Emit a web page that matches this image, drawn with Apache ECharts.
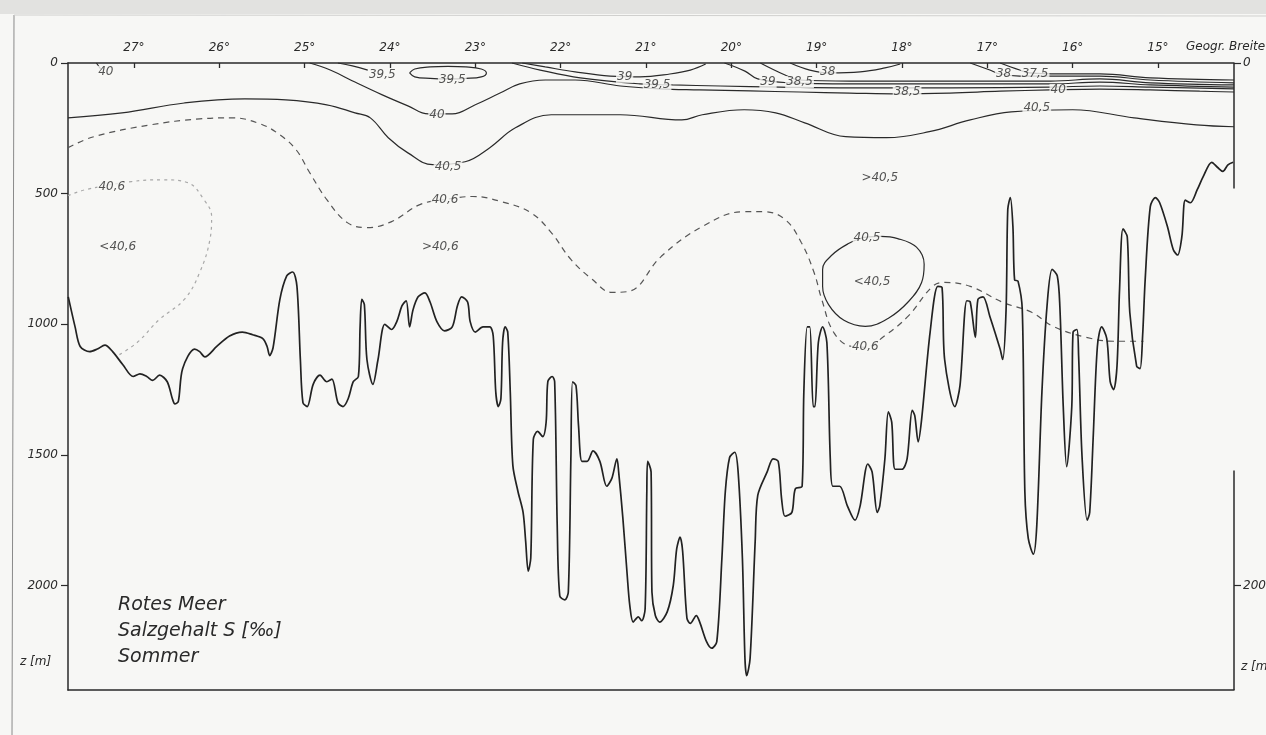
<!DOCTYPE html>
<html><head><meta charset="utf-8">
<script src="https://cdn.jsdelivr.net/npm/echarts@6/dist/echarts.min.js"></script>
<style>html,body{margin:0;padding:0;background:#f7f7f5}#c{width:1266px;height:735px}</style>
</head><body><div id="c"></div>
<script>
// ---------- data ----------
const latTicks = [27,26,25,24,23,22,21,20,19,18,17,16,15];
const depthTicks = [0,500,1000,1500,2000];
const rightDepthTicks = [0,2000];
const latRange = [14.109, 27.773];
const depthRange = [0, 2400];
const rightFrameSpans = [[0,480],[1560,2400]];

// sea floor (bottom profile) [lat, depth m]
const bathymetry = [[27.77,895],[27.69,1010],[27.63,1085],[27.52,1105],[27.43,1095],[27.34,1080],[27.25,1105],[27.13,1155],[27.01,1200],[26.93,1190],[26.85,1200],[26.78,1215],[26.70,1195],[26.61,1220],[26.55,1285],[26.52,1305],[26.48,1295],[26.43,1170],[26.29,1095],[26.23,1105],[26.17,1125],[26.03,1085],[25.88,1045],[25.73,1030],[25.61,1040],[25.49,1055],[25.44,1085],[25.41,1120],[25.37,1090],[25.29,905],[25.21,815],[25.14,800],[25.09,855],[25.05,1135],[25.02,1300],[24.97,1315],[24.90,1230],[24.82,1195],[24.74,1220],[24.68,1210],[24.61,1300],[24.55,1315],[24.49,1285],[24.43,1220],[24.37,1200],[24.35,1010],[24.33,905],[24.30,925],[24.27,1135],[24.20,1230],[24.14,1135],[24.06,1000],[23.98,1020],[23.92,990],[23.86,930],[23.81,910],[23.77,1010],[23.73,945],[23.67,895],[23.59,880],[23.53,915],[23.45,990],[23.36,1025],[23.27,1010],[23.21,930],[23.16,895],[23.09,915],[23.06,990],[23.00,1030],[22.91,1010],[22.83,1010],[22.79,1045],[22.76,1260],[22.73,1315],[22.70,1285],[22.68,1070],[22.65,1010],[22.62,1030],[22.59,1260],[22.56,1540],[22.50,1640],[22.44,1720],[22.41,1830],[22.38,1945],[22.35,1895],[22.32,1440],[22.27,1410],[22.21,1430],[22.17,1375],[22.15,1220],[22.10,1200],[22.07,1220],[22.04,1770],[22.01,2040],[21.95,2055],[21.91,2025],[21.88,1515],[21.86,1220],[21.82,1235],[21.79,1390],[21.75,1525],[21.69,1525],[21.62,1485],[21.54,1525],[21.46,1620],[21.40,1590],[21.34,1515],[21.32,1565],[21.27,1745],[21.22,1960],[21.19,2075],[21.15,2140],[21.09,2120],[21.05,2135],[21.01,2090],[20.99,1640],[20.98,1525],[20.94,1565],[20.93,2025],[20.89,2115],[20.84,2140],[20.75,2100],[20.68,2000],[20.64,1860],[20.60,1815],[20.57,1870],[20.52,2125],[20.48,2145],[20.41,2115],[20.37,2140],[20.29,2215],[20.23,2240],[20.17,2215],[20.11,1895],[20.07,1640],[20.02,1510],[19.96,1490],[19.92,1565],[19.87,1895],[19.84,2280],[19.82,2345],[19.78,2280],[19.72,1830],[19.69,1655],[19.58,1565],[19.51,1515],[19.45,1525],[19.41,1670],[19.37,1735],[19.29,1720],[19.25,1630],[19.17,1620],[19.15,1260],[19.11,1010],[19.08,1010],[19.04,1315],[19.02,1315],[18.98,1070],[18.93,1010],[18.88,1070],[18.84,1515],[18.81,1620],[18.73,1620],[18.64,1695],[18.55,1750],[18.49,1695],[18.40,1535],[18.35,1565],[18.29,1720],[18.26,1695],[18.20,1515],[18.16,1335],[18.12,1375],[18.08,1555],[18.00,1555],[17.94,1515],[17.88,1330],[17.85,1350],[17.81,1450],[17.77,1365],[17.67,1030],[17.58,855],[17.53,860],[17.50,1135],[17.38,1315],[17.32,1235],[17.24,910],[17.20,915],[17.14,1050],[17.11,905],[17.05,895],[16.97,970],[16.85,1095],[16.82,1135],[16.78,945],[16.76,560],[16.73,515],[16.70,625],[16.68,830],[16.64,835],[16.59,945],[16.56,1640],[16.52,1820],[16.46,1880],[16.42,1770],[16.36,1260],[16.30,930],[16.24,790],[16.18,815],[16.15,930],[16.11,1315],[16.07,1545],[16.01,1315],[15.995,1030],[15.95,1020],[15.93,1120],[15.89,1505],[15.83,1750],[15.80,1720],[15.76,1440],[15.71,1085],[15.66,1010],[15.60,1055],[15.56,1220],[15.52,1250],[15.48,1160],[15.45,865],[15.41,635],[15.36,665],[15.33,955],[15.25,1160],[15.21,1170],[15.18,1045],[15.15,830],[15.09,550],[15.03,515],[14.98,535],[14.89,625],[14.82,715],[14.77,735],[14.72,665],[14.68,525],[14.62,535],[14.54,485],[14.47,435],[14.37,380],[14.30,400],[14.24,415],[14.18,390],[14.12,380]];

// salinity isolines [lat, depth m]
const iso40_5 = [[27.773,210],[27.14,191],[26.41,153],[25.70,137],[25.22,141],[24.74,160],[24.41,191],[24.23,210],[24.02,286],[23.79,344],[23.50,389],[23.12,378],[22.83,324],[22.53,248],[22.11,198],[21.30,198],[20.58,218],[20.34,198],[19.85,179],[19.48,191],[19.14,229],[18.66,282],[18.18,286],[17.68,263],[17.20,218],[16.72,187],[16.00,179],[15.28,210],[14.55,237],[14.109,244]];
const iso40_6 = [[27.773,324],[27.47,282],[26.81,237],[26.23,214],[25.84,210],[25.52,233],[25.29,275],[25.10,332],[24.94,420],[24.74,523],[24.50,611],[24.27,630],[23.98,607],[23.65,542],[23.36,523],[23.03,511],[22.69,531],[22.35,573],[22.11,649],[21.88,752],[21.63,828],[21.40,878],[21.20,874],[20.82,740],[20.34,626],[19.85,569],[19.62,569],[19.37,599],[19.18,687],[19.03,802],[18.94,905],[18.80,1031],[18.60,1084],[18.43,1088],[18.21,1046],[17.93,970],[17.64,855],[17.50,840],[17.20,855],[16.82,916],[16.48,954],[16.23,1008],[15.84,1050],[15.52,1065],[15.17,1065]];
const iso40_6West = [[27.773,508],[27.57,485],[27.03,454],[26.66,447],[26.37,458],[26.18,523],[26.09,588],[26.11,676],[26.23,802],[26.41,905],[26.70,981],[26.96,1069],[27.20,1122]];
const iso40_5Lens = [[18.45,668],[18.62,690],[18.82,735],[18.93,790],[18.93,855],[18.86,925],[18.68,985],[18.43,1008],[18.15,975],[17.92,912],[17.77,840],[17.74,770],[17.83,705],[18.05,672],[18.25,664],[18.45,668]];
const iso40West = [[27.44,0],[27.39,23]];
const iso39_5Stub = [[24.61,0],[24.44,11],[24.26,27]];
const iso39_5Lens = [[23.77,38],[23.71,23],[23.53,15],[23.32,13],[23.11,15],[22.93,23],[22.87,38],[22.93,53],[23.11,59],[23.32,61],[23.53,59],[23.71,53],[23.77,38]];
const iso40 = [[24.94,0],[24.70,27],[24.41,73],[24.09,122],[23.79,164],[23.55,195],[23.27,195],[23.00,160],[22.71,115],[22.48,80],[22.18,65],[21.83,65],[21.30,88],[20.84,99],[20.37,103],[19.78,107],[19.20,111],[18.61,115],[18.02,118],[17.44,115],[16.85,108],[16.26,103],[15.68,100],[15.09,103],[14.51,108],[14.109,111]];
const iso39_5 = [[22.57,0],[22.24,27],[21.77,57],[21.07,80],[20.69,84],[20.13,88],[19.43,92],[18.61,95],[17.44,95],[16.26,92],[15.68,88],[15.09,92],[14.109,99]];
const iso39Arc = [[22.45,0],[22.18,15],[21.83,34],[21.42,50],[21.07,53],[20.72,42],[20.48,27],[20.30,4]];
const iso39 = [[20.08,0],[19.84,31],[19.69,61],[19.31,76],[18.61,80],[17.44,80],[16.26,80],[15.68,73],[15.09,84],[14.109,92]];
const iso38_5 = [[19.66,0],[19.37,46],[19.20,65],[18.61,69],[17.44,69],[16.26,69],[15.68,61],[15.09,76],[14.109,84]];
const iso38Arc = [[19.31,0],[19.08,27],[18.84,38],[18.49,34],[18.20,19],[18.02,4]];
const iso38 = [[17.20,0],[16.97,27],[16.85,42],[16.62,50],[15.68,50],[15.09,65],[14.109,76]];
const iso37_5 = [[16.85,0],[16.62,27],[16.50,38],[16.15,42],[15.68,42],[15.09,57],[14.109,65]];

// isoline labels [text, lat, depth]
const isoLabels = [['40',27.33,34],['39,5',24.09,46],['39,5',23.27,65],['40',23.45,198],['40,5',23.32,397],['40,6',23.355,523],['40,6',27.26,473],['40,5',16.42,172],['40',16.17,103],['39',21.25,53],['39,5',20.87,84],['39',19.57,73],['38,5',19.20,73],['38',18.87,34],['38,5',17.94,111],['38',16.81,42],['37,5',16.44,42],['40,5',18.41,668],['40,6',18.43,1088]];
const regionLabels = [['<40,6',27.19,702],['>40,6',23.41,702],['>40,5',18.26,439],['<40,5',18.35,836]];
const titleLines = ['Rotes Meer','Salzgehalt S [‰]','Sommer'];
const axisTitle = 'Geogr. Breite';
const depthTitle = 'z [m]';

// ---------- chart ----------
const BG = '#f7f7f5', INK = '#2a2a2a', FONT = 'DejaVu Sans';
const chart = echarts.init(document.getElementById('c'));
function iso(data, extra) {
  return Object.assign({type:'line', data, symbol:'none', smooth:0.4, silent:true, z:3,
    lineStyle:{color:INK, width:1.2}}, extra || {});
}
const series = [
  iso(bathymetry, {smooth:0.3, lineStyle:{color:'#222', width:1.7}, z:4}),
  iso(iso40_5), iso(iso40_5Lens),
  iso(iso40_6, {lineStyle:{color:'#555', width:1.2, type:[6,5]}}),
  iso(iso40_6West, {lineStyle:{color:'#a8a8a8', width:1.2, type:[3,4]}}),
  iso(iso40West), iso(iso39_5Stub), iso(iso39_5Lens), iso(iso40), iso(iso39_5),
  iso(iso39Arc), iso(iso39), iso(iso38_5), iso(iso38Arc), iso(iso38), iso(iso37_5),
  {type:'scatter', symbolSize:0, silent:true, z:10,
   data: isoLabels.map(l => ({name:l[0], value:[l[1], l[2]]})),
   label:{show:true, position:'inside', formatter:p=>p.name, fontFamily:FONT, fontStyle:'italic', fontSize:12, color:INK, backgroundColor:BG, padding:[0,1]}},
  {type:'scatter', symbolSize:0, silent:true, z:10,
   data: regionLabels.map(l => ({name:l[0], value:[l[1], l[2]]})),
   label:{show:true, position:'inside', formatter:p=>p.name, fontFamily:FONT, fontStyle:'italic', fontSize:12, color:INK}}
];
rightFrameSpans.forEach(s => series.push({type:'line', symbol:'none', silent:true, z:2,
  data:[[latRange[0], s[0]],[latRange[0], s[1]]], lineStyle:{color:INK, width:1.5}}));

const lblStyle = {fontFamily:FONT, fontStyle:'italic', fontSize:12, color:INK};
chart.setOption({
  backgroundColor: BG,
  animation: false,
  grid: {left:68, right:32, top:63, bottom:45, containLabel:false, outerBoundsMode:'none'},
  xAxis: [
    {type:'value', position:'top', inverse:true, min:latRange[0], max:latRange[1],
     axisLine:{show:true, lineStyle:{color:INK, width:1.5}},
     axisTick:{show:true, inside:true, length:5, customValues:latTicks, lineStyle:{color:INK, width:1.3}},
     axisLabel:Object.assign({customValues:latTicks, formatter:v=>v+'°', margin:9, fontSize:13}, lblStyle),
     splitLine:{show:false}},
    {type:'value', position:'bottom', inverse:true, min:latRange[0], max:latRange[1],
     axisLine:{show:true, onZero:false, lineStyle:{color:INK, width:1.5}}, axisTick:{show:false}, axisLabel:{show:false}, splitLine:{show:false}}
  ],
  yAxis: [
    {type:'value', inverse:true, min:depthRange[0], max:depthRange[1], position:'left',
     axisLine:{show:true, onZero:false, lineStyle:{color:INK, width:1.5}},
     axisTick:{show:true, length:7, customValues:depthTicks, lineStyle:{color:INK, width:1.2}},
     axisLabel:Object.assign({customValues:depthTicks, margin:10, formatter:v=>String(v)}, lblStyle),
     splitLine:{show:false}},
    {type:'value', inverse:true, min:depthRange[0], max:depthRange[1], position:'right',
     axisLine:{show:false},
     axisTick:{show:true, length:7, customValues:rightDepthTicks, lineStyle:{color:INK, width:1.2}},
     axisLabel:Object.assign({customValues:rightDepthTicks, margin:9, formatter:v=>String(v)}, lblStyle),
     splitLine:{show:false}}
  ],
  graphic: [
    {type:'rect', shape:{x:0, y:0, width:1266, height:14}, style:{fill:'#e2e2e0'}, silent:true},
    {type:'line', shape:{x1:14, y1:15, x2:12, y2:735}, style:{stroke:'#8a8a8a', lineWidth:1}, silent:true},
    {type:'line', shape:{x1:14, y1:15, x2:1266, y2:16}, style:{stroke:'#d0d0ce', lineWidth:1}, silent:true},
    {type:'text', left:1186, top:41, style:{text:axisTitle, font:'italic 12px DejaVu Sans', fill:INK}},
    {type:'text', left:20, top:656, style:{text:depthTitle, font:'italic 12px DejaVu Sans', fill:INK}},
    {type:'text', left:1241, top:661, style:{text:depthTitle, font:'italic 12px DejaVu Sans', fill:INK}},
    {type:'text', left:118, top:592, style:{text:titleLines.join('\n'), font:'italic 19px DejaVu Sans', lineHeight:26, fill:INK}}
  ],
  series
});
</script></body></html>
